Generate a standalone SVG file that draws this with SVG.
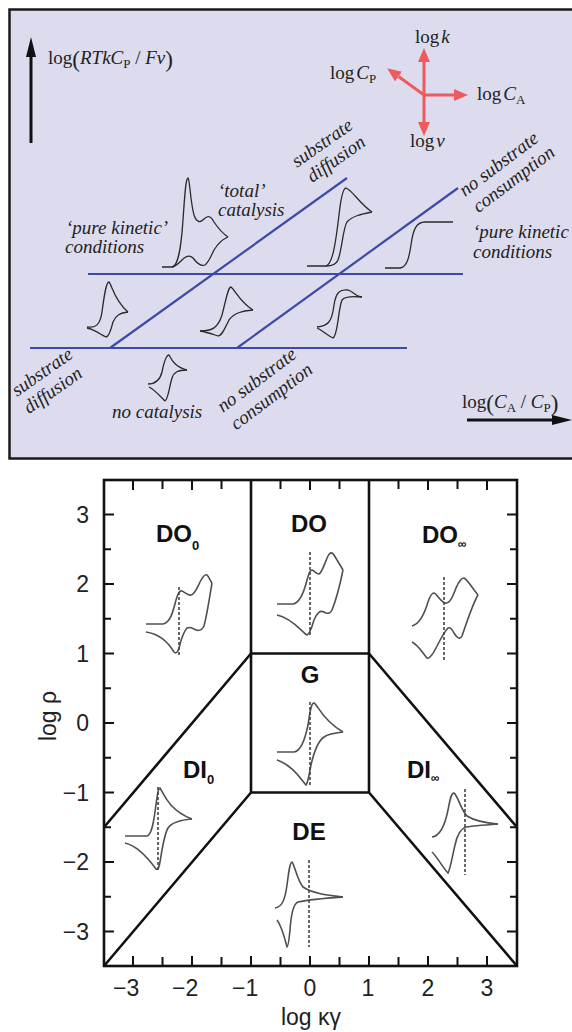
<svg xmlns="http://www.w3.org/2000/svg" width="572" height="1032" viewBox="0 0 572 1032">
<style>
.serif{font-family:"Liberation Serif","Times New Roman",serif;fill:#222}
.it{font-style:italic}
.lab{font-family:"Liberation Serif","Times New Roman",serif;font-style:italic;font-size:19px;fill:#222}
.blue{stroke:#3d4aa6;stroke-width:2.2;fill:none}
.cv{stroke:#2a2a2a;stroke-width:1.3;fill:none}
.cv2{stroke:#505050;stroke-width:1.6;fill:none}
.dash{stroke:#444;stroke-width:1.6;stroke-dasharray:3,2;fill:none}
.bound{stroke:#111;stroke-width:2.6;fill:none}
.tick{stroke:#111;stroke-width:2;fill:none}
.num{font-family:"Liberation Sans",Arial,sans-serif;font-size:23px;fill:#222}
.reg{font-family:"Liberation Sans",Arial,sans-serif;font-weight:bold;font-size:24px;fill:#111}
.red{stroke:#ee5b5e;stroke-width:3;fill:none}
</style>
<defs>
<marker id="rh" viewBox="0 0 14 12" markerWidth="14" markerHeight="12" refX="0" refY="6" orient="auto" markerUnits="userSpaceOnUse"><path d="M0,0 L14,6 L0,12 z" fill="#ee5b5e"/></marker>
<marker id="bh" viewBox="0 0 20 10" markerWidth="20" markerHeight="10" refX="0" refY="5" orient="auto" markerUnits="userSpaceOnUse"><path d="M0,0 L20,5 L0,10 z" fill="#111"/></marker>
</defs>
<rect x="0" y="0" width="572" height="1032" fill="#fff"/>

<!-- TOP PANEL -->
<g id="top-panel">
<rect x="9.5" y="9.5" width="575" height="449" fill="#dcdcee" stroke="#1a1a1a" stroke-width="2.5"/>
</g>

<g id="top-axes">
<line x1="31" y1="143" x2="31" y2="57" stroke="#111" stroke-width="3" marker-end="url(#bh)"/>
<text class="serif" x="48" y="64" font-size="19">log<tspan font-size="23" dy="3">(</tspan><tspan class="it" dy="-3">RTkC</tspan><tspan font-size="13" dy="4">P</tspan><tspan dy="-4"> / </tspan><tspan class="it">Fv</tspan><tspan font-size="23" dy="3">)</tspan></text>
<line x1="467" y1="420" x2="552" y2="420" stroke="#111" stroke-width="3" marker-end="url(#bh)"/>
<text class="serif" x="462" y="408" font-size="19">log<tspan font-size="23" dy="3">(</tspan><tspan class="it" dy="-3">C</tspan><tspan font-size="13" dy="4">A</tspan><tspan dy="-4"> / </tspan><tspan class="it">C</tspan><tspan font-size="13" dy="4">P</tspan><tspan font-size="23" dy="-1">)</tspan></text>
</g>

<g id="compass">
<line class="red" x1="424" y1="95" x2="424" y2="62" marker-end="url(#rh)"/>
<line class="red" x1="424" y1="95" x2="424" y2="122" marker-end="url(#rh)"/>
<line class="red" x1="424" y1="95" x2="454" y2="95" marker-end="url(#rh)"/>
<line class="red" x1="424" y1="95" x2="398.5" y2="76.5" marker-end="url(#rh)"/>
<text class="serif" x="415" y="43" font-size="19">log<tspan class="it" dx="2">k</tspan></text>
<text class="serif" x="330" y="79" font-size="19">log<tspan class="it" dx="2">C</tspan><tspan font-size="13" dy="4">P</tspan></text>
<text class="serif" x="477" y="100" font-size="19">log<tspan class="it" dx="2">C</tspan><tspan font-size="13" dy="4">A</tspan></text>
<text class="serif" x="410" y="147" font-size="19">log<tspan class="it" dx="2">v</tspan></text>
</g>

<g id="connectors">
<line class="blue" x1="88" y1="274" x2="463" y2="274"/>
<line class="blue" x1="30" y1="348" x2="407" y2="348"/>
<line class="blue" x1="110" y1="348" x2="347" y2="178"/>
<line class="blue" x1="237" y1="348" x2="458" y2="188"/>
</g>

<g id="top-labels">
<text class="lab" x="66" y="234">‘pure kinetic’</text>
<text class="lab" x="65" y="253">conditions</text>
<text class="lab" x="218" y="197">‘total’</text>
<text class="lab" x="218" y="216">catalysis</text>
<text class="lab" x="473" y="238">‘pure kinetic</text>
<text class="lab" x="473" y="258">conditions</text>
<text class="lab" x="112" y="418">no catalysis</text>
<g transform="translate(297,168) rotate(-35)"><text class="lab" x="0" y="0">substrate</text><text class="lab" x="4" y="21">diffusion</text></g>
<g transform="translate(465,197) rotate(-37)"><text class="lab" x="0" y="0">no substrate</text><text class="lab" x="1" y="21">consumption</text></g>
<g transform="translate(17,397) rotate(-35)"><text class="lab" x="0" y="0">substrate</text><text class="lab" x="0" y="21">diffusion</text></g>
<g transform="translate(223,413) rotate(-37)"><text class="lab" x="0" y="0">no substrate</text><text class="lab" x="0" y="22">consumption</text></g>
</g>

<g id="top-curves">
<path class="cv" d="M162,267 L172,267 C178,266 181,250 183,220 C185,190 186,178 188,178 C190,180 190,200 194,215 C197,224 201,222 204,219 C208,215 211,216 214,222 C218,228 222,233 228,237"/>
<path class="cv" d="M228,237 C221,240 217,245 214,250 C211,256 209,262 205,265 C200,267 196,262 193,258 C190,255 186,256 182,260 C178,264 175,267 172,267"/>
<path class="cv" d="M307,266 L326,266 C333,264 336,240 339,215 C341,197 343,188 346,188 C352,190 360,204 372,212"/>
<path class="cv" d="M372,212 C362,214 352,216 347,222 C343,228 342,250 338,260 C336,265 332,266 326,266"/>
<path class="cv" d="M385,268 L400,268 C407,267 409,258 411,245 C413,230 416,222 425,222 L453,222" stroke="#555"/>
<path class="cv" d="M87,327 C95,328 100,326 102,312 C104,297 106,282 109,282 C112,285 114,300 128,312"/>
<path class="cv" d="M128,312 C120,313 116,315 113,322 C111,330 109,337 106,337 C101,335 96,330 87,328"/>
<path class="cv" d="M200,331 C212,331 218,328 222,315 C226,300 228,287 231,287 C235,290 240,302 253,310"/>
<path class="cv" d="M253,310 C242,311 234,313 229,320 C225,328 222,336 218,336 C212,334 207,332 200,331"/>
<path class="cv" d="M317,327 C328,326 332,322 334,305 C336,292 340,289 348,290 C354,292 356,297 362,297"/>
<path class="cv" d="M362,297 C352,296 345,296 342,300 C338,310 338,335 333,338 C328,336 322,330 317,328"/>
<path class="cv" d="M148,384 C156,384 160,380 162,372 C164,362 166,355 169,355 C171,358 173,366 187,370" stroke="#555"/>
<path class="cv" d="M187,370 C178,370 174,372 172,378 C169,388 168,400 165,401 C160,396 155,390 149,387" stroke="#555"/>
</g>

<!-- BOTTOM PANEL -->
<g id="plot-frame">
<rect x="104" y="480" width="413" height="486" fill="none" stroke="#111" stroke-width="2.6"/>
<path class="tick" d="M104,514.5h10 M104,549.25h7 M104,584h10 M104,618.75h7 M104,653.5h10 M104,688.25h7 M104,723h10 M104,757.75h7 M104,792.5h10 M104,827.25h7 M104,862h10 M104,896.75h7 M104,931.5h10"/>
<path class="tick" d="M517,514.5h-10 M517,549.25h-7 M517,584h-10 M517,618.75h-7 M517,653.5h-10 M517,688.25h-7 M517,723h-10 M517,757.75h-7 M517,792.5h-10 M517,827.25h-7 M517,862h-10 M517,896.75h-7 M517,931.5h-10"/>
<path class="tick" d="M133,480v10 M162.5,480v9 M192,480v10 M221.5,480v9 M280.5,480v9 M310,480v10 M339.5,480v9 M398.5,480v9 M428,480v10 M457.5,480v9 M487,480v10"/>
<path class="tick" d="M133,966v-10 M162.5,966v-9 M192,966v-10 M221.5,966v-9 M251,966v-10 M280.5,966v-9 M310,966v-10 M339.5,966v-9 M369,966v-10 M398.5,966v-9 M428,966v-10 M457.5,966v-9 M487,966v-10"/>
</g>

<g id="axis-labels">
<text class="num" x="89" y="523" text-anchor="end">3</text>
<text class="num" x="89" y="592" text-anchor="end">2</text>
<text class="num" x="89" y="662" text-anchor="end">1</text>
<text class="num" x="89" y="731" text-anchor="end">0</text>
<text class="num" x="89" y="801" text-anchor="end">−1</text>
<text class="num" x="89" y="870" text-anchor="end">−2</text>
<text class="num" x="89" y="940" text-anchor="end">−3</text>
<text class="num" x="113" y="996">−3</text>
<text class="num" x="172" y="996">−2</text>
<text class="num" x="232" y="996">−1</text>
<text class="num" x="310" y="996" text-anchor="middle">0</text>
<text class="num" x="368" y="996" text-anchor="middle">1</text>
<text class="num" x="428" y="996" text-anchor="middle">2</text>
<text class="num" x="487" y="996" text-anchor="middle">3</text>
<text class="num" x="311" y="1025" text-anchor="middle" font-size="26">log κγ</text>
<text class="num" transform="translate(56,716) rotate(-90)" text-anchor="middle" font-size="26">log ρ</text>
</g>

<g id="boundaries">
<path class="bound" d="M251,480 V792.5 M369,480 V792.5 M251,653.5 H369 M251,792.5 H369"/>
<path class="bound" d="M251,653.5 L104,827.25 M251,792.5 L104,966 M369,653.5 L517,827.25 M369,792.5 L517,966"/>
</g>

<g id="region-DO0">
<text class="reg" x="156" y="542">DO<tspan font-size="13" dy="8">0</tspan></text>
<path class="cv2" d="M146,624 L163,624 C170,623 173,612 176,600 C178,593 180,590 182,591 C186,593 188,596 191,595 C195,594 197,588 200,582 C203,576 205,574 207,575 C209,577 210,580 212,583"/>
<path class="cv2" d="M212,583 C210,595 207,615 204,626 C202,630 199,631 196,630 C193,629 190,626 187,628 C184,631 181,640 179,648 C178,652 176,654 174,652 C168,642 160,634 146,632"/>
<line class="dash" x1="179" y1="587" x2="179" y2="655"/>
</g>

<g id="region-DO">
<text class="reg" x="309" y="532" text-anchor="middle" font-size="26">DO</text>
<path class="cv2" d="M277,604 L293,604 C300,603 304,592 307,580 C309,573 310,570 312,570 C315,571 316,574 319,574 C322,573 325,562 328,556 C330,552 332,552 334,555 C337,560 340,565 343,570"/>
<path class="cv2" d="M343,570 C340,585 336,600 332,610 C330,614 327,614 324,612 C320,610 317,613 314,620 C312,627 310,634 307,635 C302,632 292,618 277,615"/>
<line class="dash" x1="310" y1="552" x2="310" y2="637"/>
</g>

<g id="region-DOinf">
<text class="reg" x="422" y="543">DO<tspan font-size="12" dy="5">∞</tspan></text>
<path class="cv2" d="M412,626 C420,624 425,612 428,602 C430,596 432,593 434,593 C437,594 440,601 445,603 C450,604 453,596 456,588 C459,581 461,578 464,578 C468,580 472,588 478,595"/>
<path class="cv2" d="M478,595 C472,605 466,625 462,636 C460,640 457,638 454,633 C452,629 450,627 448,628 C444,632 440,640 436,648 C432,656 429,659 427,658 C422,652 418,645 412,642"/>
<line class="dash" x1="444" y1="577" x2="444" y2="662"/>
</g>

<g id="region-G">
<text class="reg" x="310" y="683" text-anchor="middle">G</text>
<path class="cv2" d="M277,752 L294,752 C301,751 305,740 308,725 C310,712 311,703 314,703 C318,705 322,720 343,732"/>
<path class="cv2" d="M343,732 C334,733 328,734 324,737 C318,741 314,752 311,765 C309,775 308,783 306,785 C300,778 292,765 277,760"/>
<line class="dash" x1="310" y1="702" x2="310" y2="785"/>
</g>

<g id="region-DI0">
<text class="reg" x="183" y="778">DI<tspan font-size="13" dy="6">0</tspan></text>
<path class="cv2" d="M125,836 L147,836 C151,835 153,826 155,812 C157,797 158,788 160,788 C163,792 168,810 192,819"/>
<path class="cv2" d="M192,819 C180,820 172,822 168,828 C164,835 162,850 160,862 C159,868 158,870 156,869 C148,858 138,846 125,843"/>
<line class="dash" x1="158" y1="787" x2="158" y2="870"/>
</g>

<g id="region-DIinf">
<text class="reg" x="407" y="778">DI<tspan font-size="12" dy="4">∞</tspan></text>
<path class="cv2" d="M432,837 C440,836 445,825 448,810 C450,800 451,793 454,793 C458,796 461,810 467,816 C475,821 485,823 498,824"/>
<path class="cv2" d="M498,824 C485,825 472,826 466,827 C460,829 457,835 455,845 C452,858 450,870 448,873 C443,868 438,858 432,852"/>
<line class="dash" x1="465" y1="789" x2="465" y2="875"/>
</g>

<g id="region-DE">
<text class="reg" x="309" y="840" text-anchor="middle">DE</text>
<path class="cv2" d="M275,908 C282,907 285,900 287,885 C289,870 290,862 292,862 C295,866 297,880 303,887 C312,893 325,895 343,897"/>
<path class="cv2" d="M343,897 C328,898 312,899 298,902 C293,904 291,915 290,930 C289,940 288,947 287,947 C284,935 281,925 277,920"/>
<line class="dash" x1="309" y1="860" x2="309" y2="947"/>
</g>
</svg>
